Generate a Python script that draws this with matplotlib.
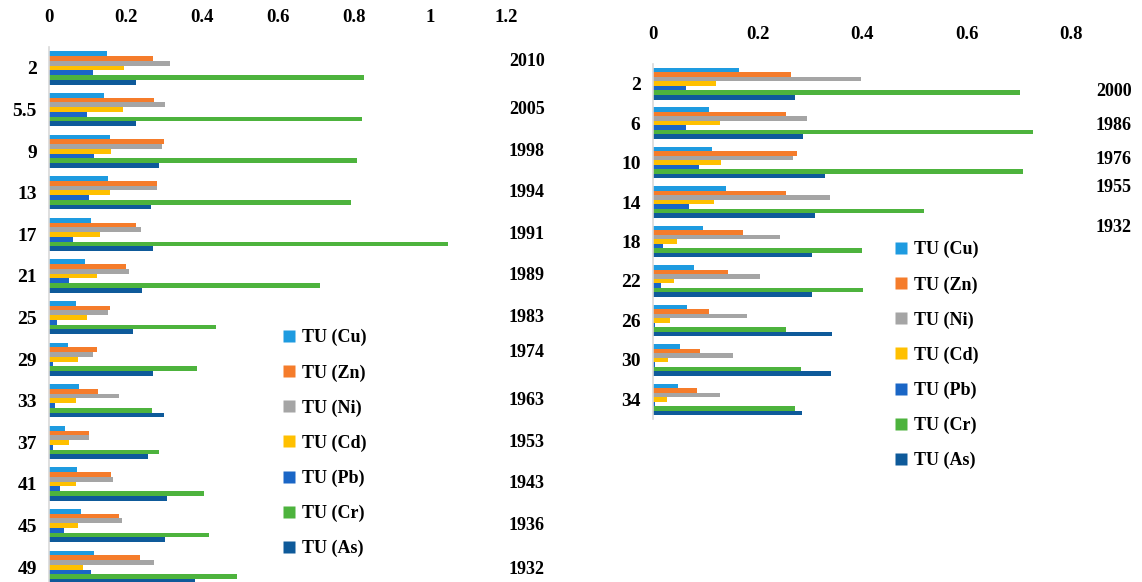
import matplotlib
matplotlib.use('Agg')
import matplotlib.pyplot as plt
from matplotlib.lines import Line2D
from matplotlib.transforms import blended_transform_factory

plt.rcParams['font.family'] = ['Liberation Serif', 'DejaVu Serif']
plt.rcParams['font.weight'] = 'bold'

# ---- data: core A (left) ----
depth_a = ['2', '5.5', '9', '13', '17', '21', '25', '29', '33', '37', '41', '45', '49']
years_a = ['2010', '2005', '1998', '1994', '1991', '1989', '1983', '1974', '1963', '1953', '1943', '1936', '1932']
cu_a = [0.151, 0.144, 0.160, 0.154, 0.110, 0.095, 0.069, 0.050, 0.079, 0.042, 0.072, 0.082, 0.118]
zn_a = [0.272, 0.274, 0.300, 0.284, 0.227, 0.202, 0.160, 0.125, 0.128, 0.104, 0.162, 0.183, 0.239]
ni_a = [0.318, 0.303, 0.297, 0.282, 0.240, 0.210, 0.154, 0.116, 0.183, 0.105, 0.168, 0.190, 0.274]
cd_a = [0.196, 0.194, 0.162, 0.160, 0.133, 0.125, 0.098, 0.076, 0.071, 0.053, 0.069, 0.076, 0.089]
pb_a = [0.116, 0.098, 0.118, 0.105, 0.061, 0.053, 0.019, 0.009, 0.014, 0.009, 0.027, 0.038, 0.110]
cr_a = [0.826, 0.822, 0.809, 0.793, 1.046, 0.710, 0.438, 0.388, 0.269, 0.289, 0.406, 0.419, 0.492]
as_a = [0.227, 0.227, 0.288, 0.267, 0.271, 0.243, 0.219, 0.272, 0.300, 0.258, 0.308, 0.305, 0.382]

# ---- data: core B (right) ----
depth_b = ['2', '6', '10', '14', '18', '22', '26', '30', '34']
years_b = ['2000', '1986', '1976', '1955', '1932']
cu_b = [0.165, 0.107, 0.113, 0.140, 0.095, 0.079, 0.065, 0.052, 0.047]
zn_b = [0.264, 0.254, 0.275, 0.255, 0.173, 0.144, 0.108, 0.090, 0.085]
ni_b = [0.399, 0.294, 0.267, 0.339, 0.243, 0.205, 0.180, 0.154, 0.128]
cd_b = [0.120, 0.129, 0.130, 0.116, 0.045, 0.040, 0.033, 0.029, 0.027]
pb_b = [0.063, 0.064, 0.088, 0.069, 0.019, 0.015, 0.004, 0.004, 0.004]
cr_b = [0.702, 0.727, 0.708, 0.519, 0.400, 0.402, 0.255, 0.283, 0.271]
as_b = [0.272, 0.288, 0.329, 0.311, 0.304, 0.305, 0.343, 0.340, 0.285]

labels = ['TU (Cu)', 'TU (Zn)', 'TU (Ni)', 'TU (Cd)', 'TU (Pb)', 'TU (Cr)', 'TU (As)']
colors = ['#1E9BE0', '#F57C2B', '#A5A5A5', '#FFC000', '#1A66C6', '#4DB33D', '#0E5A9A']

W, H = 1142, 582
fig = plt.figure(figsize=(W / 100, H / 100), dpi=100)


def panel(rect, depths, series, xmax, xticks, ylim):
    ax = fig.add_axes(rect)
    n = len(series)
    h = 0.8 / n
    for j, vals in enumerate(series):
        ys = [i - 0.4 + (j + 0.5) * h for i in range(len(depths))]
        ax.barh(ys, vals, height=h, color=colors[j], edgecolor='none')
    ax.set_xlim(0, xmax)
    ax.set_ylim(*ylim)
    ax.set_yticks(range(len(depths)))
    ax.set_yticklabels(depths, fontsize=14, fontweight='bold')
    ax.set_xticks(xticks)
    ax.set_xticklabels([f'{t:g}' for t in xticks], fontsize=13.5, fontweight='bold')
    ax.xaxis.tick_top()
    ax.tick_params(axis='x', length=0, pad=15)
    ax.tick_params(axis='y', length=0, pad=9)
    for s in ['top', 'right', 'bottom']:
        ax.spines[s].set_visible(False)
    ax.spines['left'].set_color('#D9D9D9')
    ax.spines['left'].set_linewidth(1.2)
    return ax


ax1 = panel([49.3 / W, 0, 457 / W, 534.8 / H], depth_a,
            [cu_a, zn_a, ni_a, cd_a, pb_a, cr_a, as_a],
            1.2, [0, 0.2, 0.4, 0.6, 0.8, 1, 1.2], (12.356, -0.5))
ax2 = panel([653 / W, (H - 419) / H, 418 / W, 355 / H], depth_b,
            [cu_b, zn_b, ni_b, cd_b, pb_b, cr_b, as_b],
            0.8, [0, 0.2, 0.4, 0.6, 0.8], (8.5, -0.5))

# year labels (left core aligned to depth rows, small nudges as in original)
nudge_a = [-0.15, 0, 0, 0, 0, 0, 0, -0.15, 0, 0, 0, 0, 0.05]
tr = blended_transform_factory(fig.transFigure, ax1.transData)
for i, (yr, dy) in enumerate(zip(years_a, nudge_a)):
    ax1.text(527 / W, i + dy, yr, transform=tr,
             ha='center', va='center', fontsize=13, fontweight='bold')
yb_px = [92, 125, 160, 188, 228]
for yr, yp in zip(years_b, yb_px):
    fig.text(1114 / W, 1 - yp / H, yr, ha='center', va='center', fontsize=13, fontweight='bold')

handles = [Line2D([], [], marker='s', linestyle='none', markersize=9,
                  markerfacecolor=c, markeredgecolor='none') for c in colors]
for x0, y0 in [(284, 341), (896, 253)]:
    fig.legend(handles, labels, loc='upper left',
               bbox_to_anchor=(x0 / W, 1 - (y0 - 12) / H),
               frameon=False, handlelength=0.6, handletextpad=0.4,
               labelspacing=0.99, borderpad=0, borderaxespad=0,
               prop={'weight': 'bold', 'size': 13})

fig.savefig('out.png', dpi=100)
